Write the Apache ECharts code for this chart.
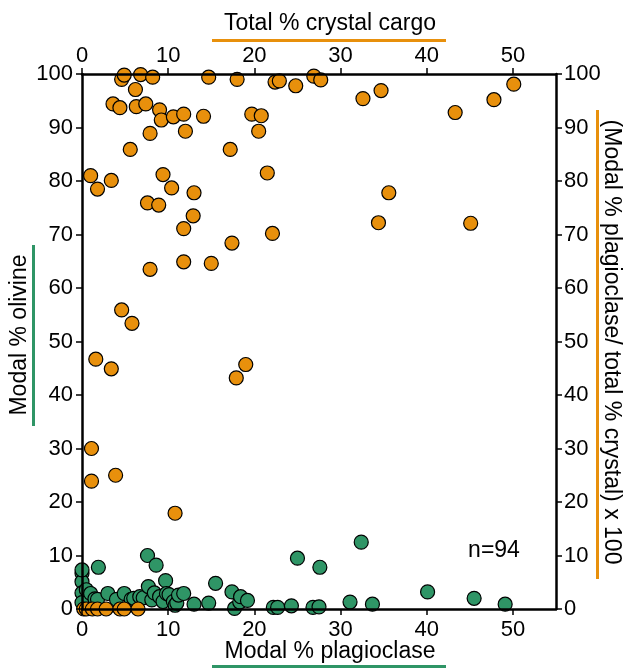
<!DOCTYPE html>
<html>
<head>
<meta charset="utf-8">
<script src="https://cdn.jsdelivr.net/npm/echarts@6/dist/echarts.min.js"></script>
<style>
  html, body { margin: 0; padding: 0; background: #fff; }
  #chart { width: 627px; height: 668px; }
</style>
</head>
<body>
<div id="chart"></div>
<script>
// modal % plagioclase (x) vs modal % olivine (y)
var olivinePts = [
	[0, 6.7], [0, 5.1], [0, 3.0], [0, 7.3], [0, 1.2], [0.5, 3.6], [1.0, 2.9], [1.5, 1.9], [1.9, 7.8], [1.8, 1.8],
	[3.0, 2.9], [4.0, 1.8], [4.9, 2.9], [5.7, 1.8], [6.0, 2.0], [6.7, 2.3], [7.1, 2.1], [7.6, 10.0], [7.7, 4.2],
	[8.1, 1.7], [8.4, 3.0], [8.6, 8.2], [9.0, 2.3], [9.4, 1.4], [9.7, 5.3], [9.8, 2.9], [10.1, 2.7], [10.6, 1.4],
	[10.8, 0.7], [11.0, 1.1], [11.2, 2.6], [11.8, 2.9], [13.0, 0.9], [14.7, 1.1], [15.5, 4.8], [17.4, 3.2],
	[17.7, 0.1], [18.3, 1.3], [18.4, 2.3], [19.2, 1.6], [22.2, 0.3], [22.7, 0.3], [24.3, 0.6], [25.0, 9.5],
	[26.8, 0.3], [27.5, 0.4], [27.6, 7.8], [31.1, 1.3], [32.4, 12.5], [33.7, 0.9], [40.1, 3.2], [45.5, 2.0], [49.1, 0.9]
];

// total % crystal cargo (x) vs plag / total crystal x 100 (y)
var ratioPts = [
	[4.6, 99.0], [4.9, 99.8], [6.8, 99.9], [8.2, 99.4], [14.7, 99.4], [18.0, 99.0], [22.4, 98.5], [22.9, 98.7],
	[24.8, 97.8], [26.9, 99.6], [27.7, 98.9], [32.6, 95.4], [34.7, 96.9], [43.3, 92.8], [47.8, 95.2], [50.1, 98.1],
	[35.6, 77.8], [34.4, 72.2], [45.1, 72.1], [6.2, 97.1], [3.6, 94.4], [4.4, 93.7], [6.3, 93.9], [7.4, 94.4],
	[9.0, 93.3], [9.2, 91.4], [10.6, 92.0], [11.8, 92.5], [14.1, 92.1], [12.0, 89.3], [7.9, 88.9], [19.7, 92.5],
	[20.8, 92.2], [20.5, 89.3], [5.6, 85.9], [17.2, 85.9], [1.0, 81.0], [1.8, 78.5], [3.4, 80.1], [9.4, 81.2],
	[10.4, 78.7], [13.0, 77.8], [21.5, 81.5], [7.6, 75.9], [8.9, 75.5], [12.9, 73.5], [11.8, 71.1], [22.1, 70.2],
	[17.4, 68.4], [7.9, 63.5], [11.8, 64.9], [15.0, 64.6], [4.6, 55.9], [5.8, 53.4], [1.6, 46.7], [3.4, 44.9],
	[19.0, 45.7], [17.9, 43.2], [1.1, 30.0], [1.1, 23.9], [3.9, 25.0], [10.8, 17.9],
	[0.2, 0], [0.5, 0], [1.2, 0], [1.8, 0], [2.8, 0], [4.4, 0], [4.9, 0], [6.5, 0]
];

var xTicks = [0, 10, 20, 30, 40, 50];

var orange = '#E8900C';
var green = '#2F9566';
var font = 'Liberation Sans, Arial, sans-serif';

function xAxisOpt(pos, gap) {
	return {
		type: 'value', position: pos, min: 0, max: 55, interval: 10, z: 5,
		axisLine: { show: true, onZero: false, lineStyle: { color: '#000', width: 2.5 } },
		axisTick: { show: true, inside: false, length: 6, customValues: xTicks, lineStyle: { color: '#000', width: 1.5 } },
		axisLabel: { customValues: xTicks, color: '#000', fontSize: 22, fontFamily: font, margin: gap },
		splitLine: { show: false }
	};
}

function yAxisOpt(pos, gap) {
	return {
		type: 'value', position: pos, min: 0, max: 100, interval: 10, z: 5,
		axisLine: { show: true, onZero: false, lineStyle: { color: '#000', width: 2.5 } },
		axisTick: { show: true, inside: false, length: 6, lineStyle: { color: '#000', width: 1.5 } },
		axisLabel: { color: '#000', fontSize: 22, fontFamily: font, margin: gap },
		splitLine: { show: false }
	};
}

var chart = echarts.init(document.getElementById('chart'), null, { renderer: 'canvas' });

chart.setOption({
	animation: false,
	backgroundColor: '#fff',
	grid: { left: 82, right: 71, top: 74, bottom: 59, containLabel: false },
	xAxis: [xAxisOpt('bottom', 10), xAxisOpt('top', 7)],
	yAxis: [yAxisOpt('left', 9), yAxisOpt('right', 8)],
	series: [
		{
			type: 'scatter', xAxisIndex: 0, yAxisIndex: 0, data: olivinePts,
			symbolSize: 14, clip: false,
			itemStyle: { color: green, borderColor: '#000', borderWidth: 1.2, opacity: 1 }
		},
		{
			type: 'scatter', xAxisIndex: 1, yAxisIndex: 1, data: ratioPts,
			symbolSize: 14, clip: false,
			itemStyle: { color: orange, borderColor: '#000', borderWidth: 1.2, opacity: 1 }
		}
	],
	graphic: [
		{ type: 'text', x: 330, y: 24, style: { text: 'Total % crystal cargo', fontSize: 23, fontFamily: font, fill: '#000', align: 'center', verticalAlign: 'middle' } },
		{ type: 'rect', shape: { x: 212, y: 39, width: 234, height: 3 }, style: { fill: orange } },
		{ type: 'text', x: 330, y: 652, style: { text: 'Modal % plagioclase', fontSize: 23, fontFamily: font, fill: '#000', align: 'center', verticalAlign: 'middle' } },
		{ type: 'rect', shape: { x: 212, y: 665, width: 234, height: 3 }, style: { fill: green } },
		{ type: 'text', x: 20, y: 335, rotation: Math.PI / 2, style: { text: 'Modal % olivine', fontSize: 23, fontFamily: font, fill: '#000', align: 'center', verticalAlign: 'middle' } },
		{ type: 'rect', shape: { x: 32, y: 245, width: 3, height: 181 }, style: { fill: green } },
		{ type: 'text', x: 611, y: 342, rotation: -Math.PI / 2, style: { text: '(Modal % plagioclase/ total % crystal) x 100', fontSize: 23, fontFamily: font, fill: '#000', align: 'center', verticalAlign: 'middle' } },
		{ type: 'rect', shape: { x: 596, y: 110, width: 3, height: 469 }, style: { fill: orange } },
		{ type: 'text', x: 494, y: 551, style: { text: 'n=94', fontSize: 23, fontFamily: font, fill: '#000', align: 'center', verticalAlign: 'middle' } }
	]
});
</script>
</body>
</html>
